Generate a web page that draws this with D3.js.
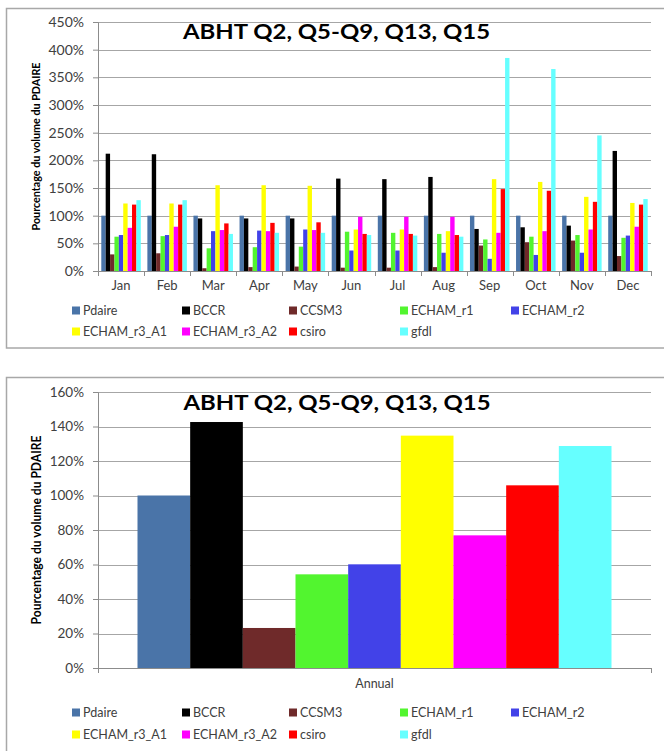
<!DOCTYPE html>
<html>
<head>
<meta charset="utf-8">
<script src="https://cdn.jsdelivr.net/npm/d3@7"></script>
<style>
  html, body { margin: 0; padding: 0; background: #fff; }
  svg { display: block; }
  text { font-family: Lato, "Open Sans", sans-serif; }
</style>
</head>
<body>
<svg id="chart" width="664" height="751"></svg>
<script>
// Months of the monthly chart
const months = ["Jan", "Feb", "Mar", "Apr", "May", "Jun", "Jul", "Aug", "Sep", "Oct", "Nov", "Dec"];

// Series names (legend order)
const seriesNames = ["Pdaire", "BCCR", "CCSM3", "ECHAM_r1", "ECHAM_r2", "ECHAM_r3_A1", "ECHAM_r3_A2", "csiro", "gfdl"];
const seriesColors = ["#4a74a8", "#000000", "#6f2a2a", "#52f52f", "#4242e8", "#ffff00", "#ff00ff", "#ff0000", "#66ffff"];

// Monthly volumes, % of the PDAIRE volume
const pdaire    = [100, 100, 100, 100, 100, 100, 100, 100, 100, 100, 100, 100];
const bccr      = [212, 211, 95, 95, 95, 167, 166, 170, 76, 79, 82, 217];
const ccsm3     = [30, 32, 5, 7, 8, 6, 6, 7, 46, 52, 55, 27];
const echamR1   = [62, 63, 41, 43, 44, 71, 69, 67, 57, 62, 65, 60];
const echamR2   = [65, 65, 72, 73, 75, 37, 37, 33, 22, 29, 33, 64];
const echamR3A1 = [122, 122, 155, 155, 154, 75, 75, 72, 166, 161, 134, 123];
const echamR3A2 = [78, 80, 74, 72, 74, 98, 98, 98, 69, 72, 75, 80];
const csiro     = [120, 120, 86, 87, 88, 67, 67, 65, 148, 145, 125, 120];
const gfdl      = [128, 128, 67, 69, 69, 65, 64, 62, 385, 365, 245, 130];

// Annual volumes, % of the PDAIRE volume
const annualCategories = ["Annual"];
const annualValues = [100, 142.6, 23.2, 54.3, 60.1, 134.7, 76.9, 105.9, 128.7];

const monthlyTicks = [0, 50, 100, 150, 200, 250, 300, 350, 400, 450];
const annualTicks = [0, 20, 40, 60, 80, 100, 120, 140, 160];

const chartTitle = "ABHT Q2, Q5-Q9, Q13, Q15";
const yAxisTitle = "Pourcentage du volume du PDAIRE";

const monthlySeries = [pdaire, bccr, ccsm3, echamR1, echamR2, echamR3A1, echamR3A2, csiro, gfdl];

const svg = d3.select("#chart");

function drawChart(opts) {
  const g = svg.append("g");

  // outer frame
  g.append("rect")
    .attr("x", opts.frame[0]).attr("y", opts.frame[1])
    .attr("width", opts.frame[2]).attr("height", opts.frame[3])
    .attr("fill", "none").attr("stroke", "#a8a8a8").attr("stroke-width", 1.5);

  const x0 = d3.scaleBand().domain(opts.categories).range([opts.left, opts.right]).padding(0);
  // Excel-style 150% gap width: 9 bars + 1.5 bar gap per category
  const unit = x0.bandwidth() / (seriesNames.length + 1.5);
  const x1 = d3.scaleBand().domain(seriesNames)
    .range([unit * 0.75, unit * 0.75 + unit * seriesNames.length]).padding(0);
  const y = d3.scaleLinear().domain([0, opts.max]).range([opts.bottom, opts.top]);

  // gridlines
  g.append("g").selectAll("line").data(opts.ticks.filter(d => d > 0)).join("line")
    .attr("x1", opts.left).attr("x2", opts.right)
    .attr("y1", d => Math.round(y(d)) + 0.5).attr("y2", d => Math.round(y(d)) + 0.5)
    .attr("stroke", "#a6a6a6").attr("stroke-width", 1);

  // y axis
  const yAxis = g.append("g")
    .attr("transform", `translate(${opts.left},0)`)
    .call(d3.axisLeft(y).tickValues(opts.ticks).tickFormat(d => d + "%").tickSize(5).tickPadding(9));
  yAxis.select(".domain").attr("stroke", "#8c8c8c");
  yAxis.selectAll(".tick line").attr("stroke", "#8c8c8c");
  yAxis.selectAll(".tick text")
    .attr("font-family", "Lato, sans-serif").attr("font-size", opts.tickFont)
    .attr("fill", "#404040");

  // bars
  const rows = opts.categories.map((c, i) => ({ cat: c, values: seriesNames.map((s, k) => ({ s, k, v: opts.values[k][i] })) }));
  const grp = g.append("g").selectAll("g").data(rows).join("g")
    .attr("transform", d => `translate(${x0(d.cat)},0)`);
  grp.selectAll("rect").data(d => d.values).join("rect")
    .attr("x", d => x1(d.s))
    .attr("width", x1.bandwidth())
    .attr("y", d => y(d.v))
    .attr("height", d => y(0) - y(d.v))
    .attr("fill", d => seriesColors[d.k]);

  // x axis with ticks at category boundaries
  g.append("line")
    .attr("x1", opts.left).attr("x2", opts.right)
    .attr("y1", Math.round(y(0)) + 0.5).attr("y2", Math.round(y(0)) + 0.5)
    .attr("stroke", "#8c8c8c");
  const bounds = opts.categories.map(c => x0(c)).concat([x0(opts.categories[opts.categories.length - 1]) + x0.bandwidth()]);
  g.append("g").selectAll("line").data(bounds).join("line")
    .attr("x1", d => Math.round(d) + 0.5).attr("x2", d => Math.round(d) + 0.5)
    .attr("y1", y(0)).attr("y2", y(0) + 5)
    .attr("stroke", "#8c8c8c");
  g.append("g").selectAll("text").data(opts.categories).join("text")
    .attr("x", d => x0(d) + x0.bandwidth() / 2)
    .attr("y", y(0) + opts.catDy)
    .attr("text-anchor", "middle")
    .attr("font-size", opts.catFont)
    .attr("fill", "#404040")
    .text(d => d);

  // title
  g.append("text")
    .attr("x", opts.titleX).attr("y", opts.titleY)
    .attr("text-anchor", "middle")
    .attr("font-family", "Lato, sans-serif")
    .attr("font-weight", "bold").attr("font-size", 21)
    .attr("fill", "#000")
    .attr("textLength", 307)
    .attr("lengthAdjust", "spacingAndGlyphs")
    .text(chartTitle);

  // y axis title
  g.append("text")
    .attr("transform", `translate(${opts.yTitleX},${(opts.top + opts.bottom) / 2}) rotate(-90)`)
    .attr("text-anchor", "middle")
    .attr("font-size", opts.yTitleFont)
    .attr("font-weight", "bold")
    .attr("fill", "#000")
    .attr("textLength", opts.yTitleLen)
    .attr("lengthAdjust", "spacingAndGlyphs")
    .text(yAxisTitle);

  // legend
  const legendCols = [72, 182, 289, 400, 511];
  const legend = g.append("g").selectAll("g").data(seriesNames).join("g")
    .attr("transform", (d, i) => `translate(${legendCols[i % 5]},${opts.legendY + Math.floor(i / 5) * opts.legendDy})`);
  legend.append("rect")
    .attr("x", 0).attr("y", -4.5).attr("width", 8).attr("height", 8)
    .attr("fill", (d, i) => seriesColors[i]);
  legend.append("text")
    .attr("x", 11).attr("y", 0).attr("dy", "0.35em")
    .attr("font-size", 12.5).attr("fill", "#404040")
    .text(d => d);
}

drawChart({
  frame: [6.5, 8.5, 700, 339.5],
  categories: months,
  values: monthlySeries,
  max: 450, ticks: monthlyTicks,
  left: 98, right: 651, top: 22, bottom: 271,
  tickFont: 14, catFont: 13, catDy: 19,
  titleX: 336.5, titleY: 39,
  yTitleX: 40, yTitleFont: 12, yTitleLen: 168,
  legendY: 311, legendDy: 21
});

drawChart({
  frame: [6.5, 377.5, 700, 400],
  categories: annualCategories,
  values: annualValues.map(v => [v]),
  max: 160, ticks: annualTicks,
  left: 98, right: 651, top: 392, bottom: 668,
  tickFont: 13.5, catFont: 12.5, catDy: 20,
  titleX: 337, titleY: 410,
  yTitleX: 41, yTitleFont: 13, yTitleLen: 189,
  legendY: 713, legendDy: 22
});
</script>
</body>
</html>
